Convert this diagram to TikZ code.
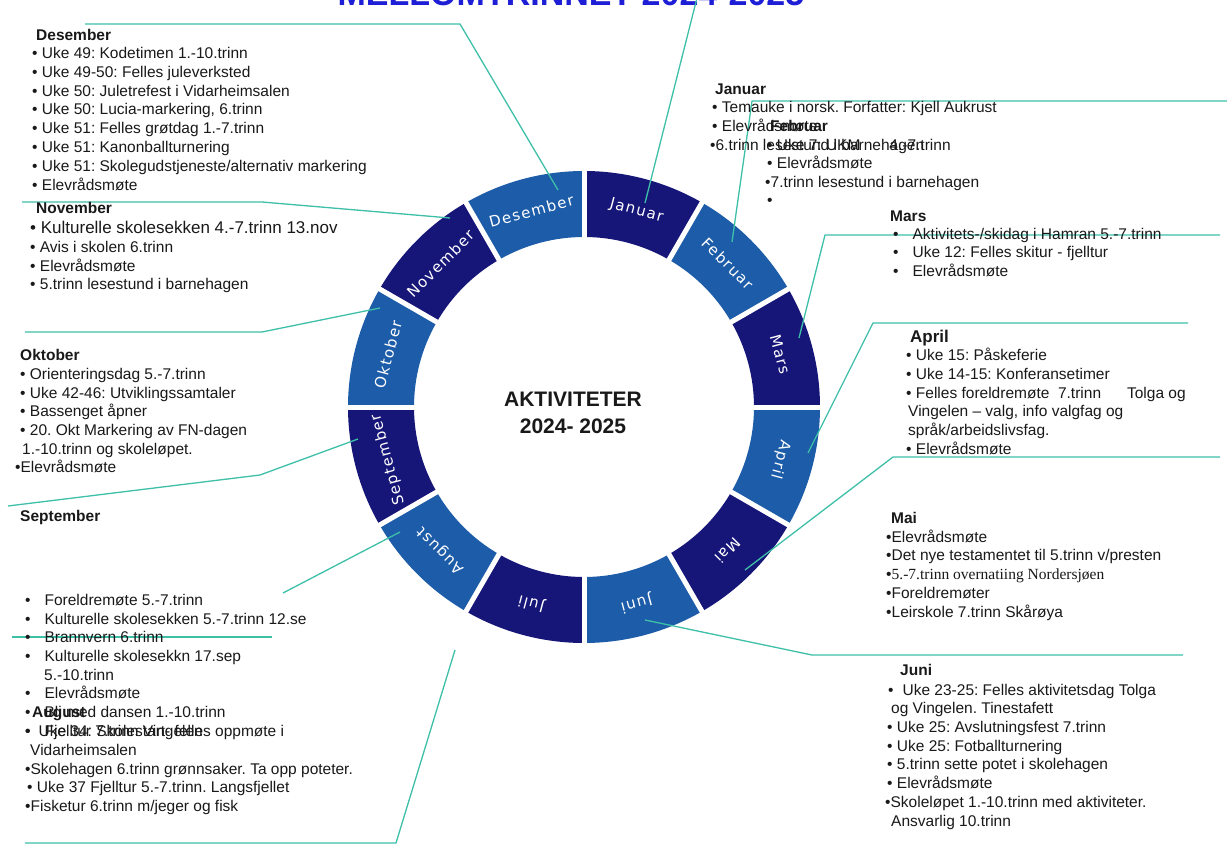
\documentclass[tikz,border=0pt]{standalone}
\usepackage{fontspec}
\setmainfont{Liberation Sans}
\newfontfamily\ringfont[LetterSpace=9]{DejaVu Sans}
\newfontfamily\seriffont{Liberation Serif}
\definecolor{navy}{RGB}{22,21,120}
\definecolor{midblue}{RGB}{29,92,168}
\definecolor{teal}{RGB}{62,192,168}
\definecolor{txtcol}{RGB}{25,25,25}
\definecolor{titleblue}{RGB}{30,30,215}
\newcommand\Tline[4][]{\node[txt,#1] (#2) at (#3) {#4};}
\frenchspacing
\begin{document}
\begin{tikzpicture}[x=1pt,y=-1pt,
  txt/.style={anchor=base west, inner sep=0pt, text=txtcol, font=\fontsize{15.5}{18}\selectfont},
  hdr/.style={font=\fontsize{15.5}{18}\selectfont\bfseries},
  big/.style={font=\fontsize{17}{20}\selectfont},
  conn/.style={draw=teal, line width=1.3pt, line join=round},
  ringtxt/.style={text=white, font=\ringfont\fontsize{15}{17}\selectfont, inner sep=0pt}]
\useasboundingbox[fill=white] (0,0) rectangle (1227,845);

% title (cut by the top edge)
\node[anchor=base, inner sep=0pt, text=titleblue, font=\fontsize{34}{34}\selectfont\bfseries] (title) at (571,6) {MELLOMTRINNET 2024-2025};

% ring
\begin{scope}[shift={(584,407)}, x=1pt, y=1pt]
  \foreach \i/\nm/\col in {0/Januar/navy,1/Februar/midblue,2/Mars/navy,3/April/midblue,4/Mai/navy,5/Juni/midblue,6/Juli/navy,7/August/midblue,8/September/navy,9/Oktober/midblue,10/November/navy,11/Desember/midblue}{
    \pgfmathsetmacro\a{90-30*\i}
    \pgfmathsetmacro\b{60-30*\i}
    \pgfmathsetmacro\m{75-30*\i}
    \pgfmathsetmacro\r{\m-90}
    \fill[\col] (\a:170) arc[start angle=\a, end angle=\b, radius=170] -- (\b:236) arc[start angle=\b, end angle=\a, radius=236] -- cycle;
    \node[ringtxt, rotate=\r] (seg\i) at (\m:203) {\nm};
  }
  \foreach \k in {0,...,11}{
    \draw[white, line width=5pt] (90-30*\k:165) -- (90-30*\k:241);
  }
\end{scope}

\node[align=center, inner sep=0pt, text=txtcol, font=\fontsize{21}{27}\selectfont\bfseries] (center) at (573,413) {AKTIVITETER\\2024- 2025};

% connector points
\coordinate (decP) at (558,190); \coordinate (decK) at (460,24); \coordinate (decE) at (85,24);
\coordinate (janP) at (645,203); \coordinate (janE) at (697,-2);
\coordinate (febP) at (732,242); \coordinate (febK) at (752,101); \coordinate (febE) at (1227,101);
\coordinate (marP) at (799,338); \coordinate (marK) at (825,235); \coordinate (marE) at (1220,235);
\coordinate (aprP) at (808,453); \coordinate (aprK) at (873,323); \coordinate (aprE) at (1188,323);
\coordinate (maiP) at (745,570); \coordinate (maiK) at (893,457); \coordinate (maiE) at (1220,457);
\coordinate (junP) at (645,620); \coordinate (junK) at (812,655); \coordinate (junE) at (1183,655);
\coordinate (julP) at (455,650); \coordinate (julK) at (396,843); \coordinate (julE) at (25,843);
\coordinate (augP) at (400,532); \coordinate (augE) at (283,593);
\coordinate (brA) at (272,637); \coordinate (brB) at (12,637);
\coordinate (sepP) at (358,439); \coordinate (sepK) at (260,475); \coordinate (sepE) at (8,506);
\coordinate (oktP) at (380,308); \coordinate (oktK) at (262,332); \coordinate (oktE) at (25,332);
\coordinate (novP) at (450,218); \coordinate (novK) at (262,202); \coordinate (novE) at (22,202);

\draw[conn] (decP) -- (decK) -- (decE);
\draw[conn] (janP) -- (janE);
\draw[conn] (febP) -- (febK) -- (febE);
\draw[conn] (marP) -- (marK) -- (marE);
\draw[conn] (aprP) -- (aprK) -- (aprE);
\draw[conn] (maiP) -- (maiK) -- (maiE);
\draw[conn] (junP) -- (junK) -- (junE);
\draw[conn] (julP) -- (julK) -- (julE);
\draw[conn] (augP) -- (augE);
\draw[conn] (brA) -- (brB);
\draw[conn] (sepP) -- (sepK) -- (sepE);
\draw[conn] (oktP) -- (oktK) -- (oktE);
\draw[conn] (novP) -- (novK) -- (novE);

% Desember
\Tline[hdr]{dec0}{36,41}{Desember}
\Tline{dec1}{32,59}{• Uke 49: Kodetimen 1.-10.trinn}
\Tline{dec2}{32,78}{• Uke 49-50: Felles juleverksted}
\Tline{dec3}{32,97}{• Uke 50: Juletrefest i Vidarheimsalen}
\Tline{dec4}{32,115}{• Uke 50: Lucia-markering, 6.trinn}
\Tline{dec5}{32,134}{• Uke 51: Felles grøtdag 1.-7.trinn}
\Tline{dec6}{32,153}{• Uke 51: Kanonballturnering}
\Tline{dec7}{32,172}{• Uke 51: Skolegudstjeneste/alternativ markering}
\Tline{dec8}{32,191}{• Elevrådsmøte}

% November
\Tline[hdr]{nov0}{36,214}{November}
\Tline[big]{nov1}{30,234}{• Kulturelle skolesekken 4.-7.trinn 13.nov}
\Tline{nov2}{30,253}{• Avis i skolen 6.trinn}
\Tline{nov3}{30,272}{• Elevrådsmøte}
\Tline{nov4}{30,290}{• 5.trinn lesestund i barnehagen}

% Oktober
\Tline[hdr]{okt0}{20,360}{Oktober}
\Tline{okt1}{20,379}{• Orienteringsdag 5.-7.trinn}
\Tline{okt2}{20,398}{• Uke 42-46: Utviklingssamtaler}
\Tline{okt3}{20,416}{• Bassenget åpner}
\Tline{okt4}{20,435}{• 20. Okt Markering av FN-dagen}
\Tline{okt5}{22,454}{1.-10.trinn og skoleløpet.}
\Tline{okt6}{15,472}{•Elevrådsmøte}

% September
\Tline[hdr]{sep0}{20,521}{September}
\Tline{sep1}{25,605}{•\hspace{14pt}Foreldremøte 5.-7.trinn}
\Tline{sep2}{25,624}{•\hspace{14pt}Kulturelle skolesekken 5.-7.trinn 12.se}
\Tline{sep3}{25,642}{•\hspace{14pt}Brannvern 6.trinn}
\Tline{sep4}{25,661}{•\hspace{14pt}Kulturelle skolesekkn 17.sep}
\Tline{sep5}{44,680}{5.-10.trinn}
\Tline{sep6}{25,698}{•\hspace{14pt}Elevrådsmøte}
\Tline{sep7}{25,717}{•\hspace{14pt}Bli med dansen 1.-10.trinn}
\Tline{sep8}{25,736}{•\hspace{14pt}Fjelltur 7.trinn Vingelen}

% August
\Tline[hdr]{aug0}{32,717}{August}
\Tline{aug1}{25,736}{•\hspace{8pt}Uke 34: Skolestart- felles oppmøte i}
\Tline{aug2}{30,755}{Vidarheimsalen}
\Tline{aug3}{25,774}{•Skolehagen 6.trinn grønnsaker. Ta opp poteter.}
\Tline{aug4}{27,792}{• Uke 37 Fjelltur 5.-7.trinn. Langsfjellet}
\Tline{aug5}{25,811}{•Fisketur 6.trinn m/jeger og fisk}

% Januar
\Tline[hdr]{jan0}{715,95}{Januar}
\Tline{jan1}{712,113}{• Temauke i norsk. Forfatter: Kjell Aukrust}
\Tline{jan2}{712,132}{• Elevrådsmøte}
\Tline{jan3}{710,151}{•6.trinn lesestund i barnehagen}

% Februar
\Tline[hdr]{feb0}{770,132}{Februar}
\Tline{feb1}{767,151}{• Uke 7: UKM\hspace{29pt}4.-7.trinn}
\Tline{feb2}{767,169}{• Elevrådsmøte}
\Tline{feb3}{765,188}{•7.trinn lesestund i barnehagen}
\Tline{feb4}{767,206}{•}

% Mars
\Tline[hdr]{mar0}{890,222}{Mars}
\Tline{mar1}{893,240}{•\hspace{14pt}Aktivitets-/skidag i Hamran 5.-7.trinn}
\Tline{mar2}{893,258}{•\hspace{14pt}Uke 12: Felles skitur - fjelltur}
\Tline{mar3}{893,277}{•\hspace{14pt}Elevrådsmøte}

% April
\Tline[hdr,font=\fontsize{17}{20}\selectfont\bfseries]{apr0}{910,342}{April}
\Tline{apr1}{906,360}{• Uke 15: Påskeferie}
\Tline{apr2}{906,379}{• Uke 14-15: Konferansetimer}
\Tline{apr3}{906,398}{• Felles foreldremøte\ \ 7.trinn\hspace{26pt}Tolga og}
\Tline{apr4}{908,416}{Vingelen – valg, info valgfag og}
\Tline{apr5}{908,435}{språk/arbeidslivsfag.}
\Tline{apr6}{906,454}{• Elevrådsmøte}

% Mai
\Tline[hdr]{mai0}{891,523}{Mai}
\Tline{mai1}{886,542}{•Elevrådsmøte}
\Tline{mai2}{886,560}{•Det nye testamentet til 5.trinn v/presten}
\Tline{mai3}{886,579}{•{\seriffont 5.-7.trinn overnatiing Nordersjøen}}
\Tline{mai4}{886,598}{•Foreldremøter}
\Tline{mai5}{886,617}{•Leirskole 7.trinn Skårøya}

% Juni
\Tline[hdr]{jun0}{900,675}{Juni}
\Tline{jun1}{888,695}{•\hspace{9pt}Uke 23-25: Felles aktivitetsdag Tolga}
\Tline{jun2}{891,713}{og Vingelen. Tinestafett}
\Tline{jun3}{887,732}{• Uke 25: Avslutningsfest 7.trinn}
\Tline{jun4}{887,751}{• Uke 25: Fotballturnering}
\Tline{jun5}{887,769}{• 5.trinn sette potet i skolehagen}
\Tline{jun6}{887,788}{• Elevrådsmøte}
\Tline{jun7}{885,807}{•Skoleløpet 1.-10.trinn med aktiviteter.}
\Tline{jun8}{891,826}{Ansvarlig 10.trinn}
\end{tikzpicture}
\end{document}
